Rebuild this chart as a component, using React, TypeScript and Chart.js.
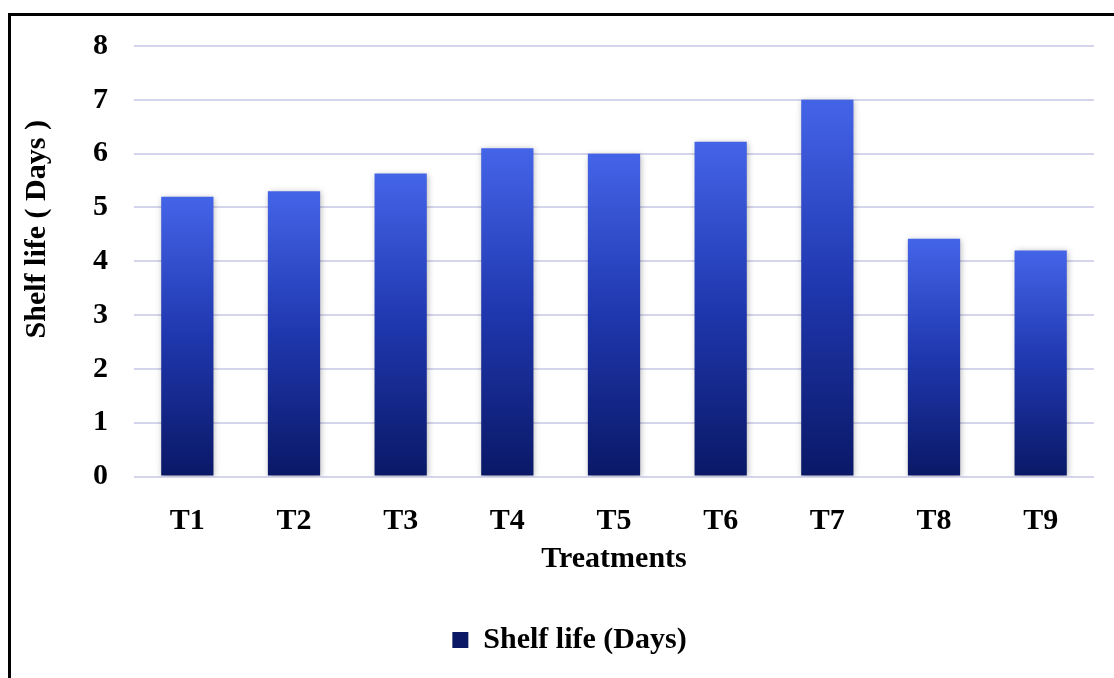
import React, { useEffect, useRef } from "react";
import { Chart, registerables } from "chart.js";

Chart.register(...registerables);

const categories = ["T1", "T2", "T3", "T4", "T5", "T6", "T7", "T8", "T9"];
const shelfLife = [5.2, 5.3, 5.63, 6.1, 6.0, 6.22, 7.0, 4.42, 4.2];
const seriesLabel = "Shelf life (Days)";
const yTitle = "Shelf life ( Days )";
const xTitle = "Treatments";

const FONT = "'Liberation Serif', 'Times New Roman', serif";
const FS = 30;

export default function App() {
  const ref = useRef<HTMLCanvasElement>(null);

  useEffect(() => {
    if (!ref.current) return;

    const shadowPlugin = {
      id: "barShadow",
      beforeDatasetsDraw(chart: any) {
        const ctx = chart.ctx;
        ctx.save();
        ctx.shadowColor = "rgba(0,0,0,0.28)";
        ctx.shadowBlur = 6;
        ctx.shadowOffsetX = 1;
        ctx.shadowOffsetY = 1;
      },
      afterDatasetsDraw(chart: any) {
        chart.ctx.restore();
      },
    };

    const legendShift = {
      id: "legendShift",
      afterLayout(chart: any) {
        const lg = chart.legend;
        if (lg) {
          lg.left += 17;
          lg.right += 17;
        }
      },
    };

    const yTitlePlugin = {
      id: "yTitle",
      afterDraw(chart: any) {
        const { ctx, chartArea } = chart;
        ctx.save();
        ctx.translate(26, (chartArea.top + chartArea.bottom) / 2 - 32);
        ctx.rotate(-Math.PI / 2);
        ctx.font = `bold ${FS}px ${FONT}`;
        ctx.fillStyle = "#000";
        ctx.textAlign = "center";
        ctx.textBaseline = "middle";
        ctx.fillText(yTitle, 0, 0);
        ctx.restore();
      },
    };

    const chart = new Chart(ref.current, {
      type: "bar",
      data: {
        labels: categories,
        datasets: [
          {
            label: seriesLabel,
            data: shelfLife,
            backgroundColor: (c: any) => {
              const chart = c.chart;
              const y = chart.scales?.y;
              if (!chart.chartArea || !y || c.raw == null) return "#1f36ad";
              const top = y.getPixelForValue(c.raw);
              const bottom = y.getPixelForValue(0);
              const g = chart.ctx.createLinearGradient(0, top, 0, bottom);
              g.addColorStop(0, "#4464e8");
              g.addColorStop(0.5, "#1f37ae");
              g.addColorStop(1, "#0a1866");
              return g;
            },
            borderWidth: 0,
            barPercentage: 0.49,
            categoryPercentage: 1,
          },
        ],
      },
      options: {
        responsive: false,
        animation: false,
        devicePixelRatio: 1,
        layout: { padding: { top: 30, right: 20, bottom: 13, left: 0 } },
        plugins: {
          legend: {
            position: "bottom",
            labels: {
              font: { family: FONT, size: FS, weight: "bold" },
              color: "#000",
              boxWidth: 16,
              boxHeight: 16,
              padding: 10,
            },
          },
          tooltip: { enabled: false },
        },
        scales: {
          x: {
            grid: { display: false, drawTicks: false },
            border: { display: false },
            ticks: {
              font: { family: FONT, size: FS, weight: "bold" },
              color: "#000",
              padding: 27,
            },
            title: {
              display: true,
              text: xTitle,
              font: { family: FONT, size: FS, weight: "bold" },
              color: "#000",
              padding: { top: 0, bottom: 38 },
            },
            afterFit(scale: any) {
              scale.height = 138.5;
            },
          },
          y: {
            min: 0,
            max: 8,
            grid: { color: "#d4d4ec", lineWidth: 2, drawTicks: false },
            border: { display: false },
            ticks: {
              stepSize: 1,
              font: { family: FONT, size: FS, weight: "bold" },
              color: "#000",
              padding: 26,
            },
            afterFit(scale: any) {
              scale.width = 123;
              scale.paddingTop = 0;
              scale.paddingBottom = 0;
            },
          },
        },
      },
      plugins: [shadowPlugin, legendShift, yTitlePlugin],
    } as any);

    return () => chart.destroy();
  }, []);

  return (
    <div
      style={{
        position: "fixed",
        left: 8,
        top: 13,
        width: 1103,
        height: 662,
        borderLeft: "3px solid #000",
        borderTop: "3px solid #000",
        background: "#fff",
      }}
    >
      <canvas ref={ref} width={1103} height={662} style={{ display: "block" }} />
    </div>
  );
}
